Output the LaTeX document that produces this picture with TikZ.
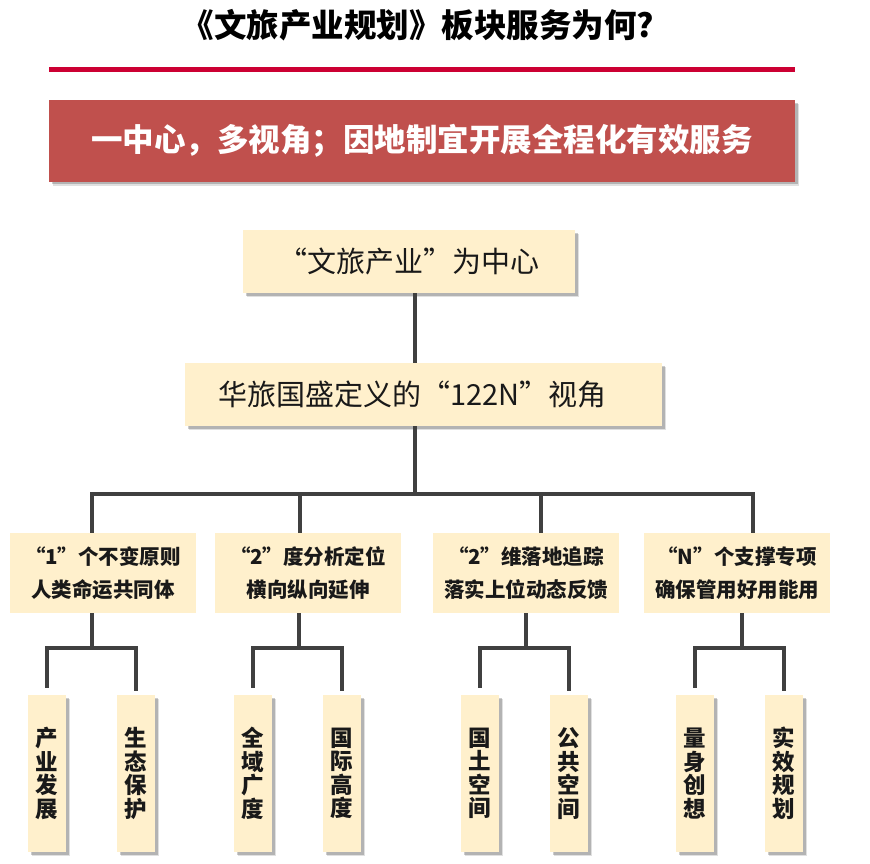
\documentclass[tikz,border=0pt]{standalone}
\usepackage{fontspec}
\setmainfont{Noto Sans CJK SC}
\usetikzlibrary{shadows}

\definecolor{cream}{HTML}{FFF0CC}
\definecolor{brick}{HTML}{C0504D}
\definecolor{crimson}{HTML}{CC0033}
\definecolor{ink}{HTML}{404040}

\tikzset{
    soft/.style={drop shadow={shadow xshift=4pt, shadow yshift=-4pt, fill=black, opacity=.12},
                 drop shadow={shadow xshift=2.5pt, shadow yshift=-2.5pt, fill=black, opacity=.2}},
    base/.style={fill=cream, inner sep=0pt, text=black!90},
    banner/.style={fill=brick, soft, inner sep=0pt, minimum width=746pt, minimum height=81pt,
                   text=white, font=\fontsize{31.5}{34}\selectfont\bfseries},
    topbox/.style={base, soft, minimum height=63pt, font=\fontsize{29}{32}\selectfont},
    midbox/.style={base, minimum width=186pt, minimum height=80pt, align=center,
                   font=\fontsize{20.5}{33}\selectfont\bfseries},
    leaf/.style={base, soft, minimum width=38pt, minimum height=157pt, align=center,
                 font=\fontsize{22.5}{23.5}\selectfont\bfseries},
    link/.style={draw=ink, line width=3.2pt},
}

\begin{document}
\begin{tikzpicture}[x=1pt, y=-1pt]
            \useasboundingbox (0, 0) rectangle (870, 864);

            % heading
            \node[font=\fontsize{32.5}{36}\selectfont\bfseries] (title) at (418, 25) { 《文旅产业规划》板块服务为何? };
            \draw[crimson, line width=4.5pt] (49, 69.5) -- (795, 69.5);
            \node[banner] (head) at (422, 141) { 一中心，多视角；因地制宜开展全程化有效服务 };

            % centre and view
            \node[topbox, minimum width=332pt] (c) at (409, 261.5) { “文旅产业”为中心 };
            \node[topbox, text width=411pt, inner xsep=33pt, align=left] (v) at (423.5, 394.5) { 华旅国盛定义的“122N”视角 };

            % the four parts
            \node[midbox] (v1) at (103, 573) { “1”个不变原则\\人类命运共同体 };
            \node[midbox] (v2) at (308, 573) { “2”度分析定位\\横向纵向延伸 };
            \node[midbox] (v3) at (526, 573) { “2”维落地追踪\\落实上位动态反馈 };
            \node[midbox] (v4) at (737, 573) { “N”个支撑专项\\确保管用好用能用 };

            % leaves
            \node[leaf] (v11) at (47, 773.5) { 产\\业\\发\\展 };
            \node[leaf] (v12) at (136, 773.5) { 生\\态\\保\\护 };
            \node[leaf] (v21) at (253, 773.5) { 全\\域\\广\\度 };
            \node[leaf] (v22) at (342, 773.5) { 国\\际\\高\\度 };
            \node[leaf] (v31) at (480, 773.5) { 国\\土\\空\\间 };
            \node[leaf] (v32) at (569, 773.5) { 公\\共\\空\\间 };
            \node[leaf] (v41) at (695, 773.5) { 量\\身\\创\\想 };
            \node[leaf] (v42) at (784, 773.5) { 实\\效\\规\\划 };

            \coordinate (hub) at (415, 494);
            \coordinate (b1) at (92, 494);
            \coordinate (b2) at (300, 494);
            \coordinate (b3) at (541, 494);
            \coordinate (b4) at (753, 494);
            \coordinate (s1) at (92, 648);
            \coordinate (s2) at (299, 648);
            \coordinate (s3) at (526, 648);
            \coordinate (s4) at (742, 648);

            \draw[link] (hub |- c.south) -- (hub |- v.north);
            \draw[link] (hub |- v.south) -- (hub);
            \draw[link] (b1 |- v1.north) -- (b1) -- (b4) -- (b4 |- v4.north);
            \draw[link] (b2) -- (b2 |- v2.north);
            \draw[link] (b3) -- (b3 |- v3.north);

            \draw[link] (s1 |- v1.south) -- (s1);
            \draw[link] (s2 |- v2.south) -- (s2);
            \draw[link] (s3 |- v3.south) -- (s3);
            \draw[link] (s4 |- v4.south) -- (s4);

            \draw[link] ([yshift=7pt]v11.north) -- (v11 |- s1) -- (v12 |- s1) -- ([yshift=4pt]v12.north);
            \draw[link] ([yshift=7pt]v21.north) -- (v21 |- s2) -- (v22 |- s2) -- ([yshift=4pt]v22.north);
            \draw[link] ([yshift=7pt]v31.north) -- (v31 |- s3) -- (v32 |- s3) -- ([yshift=4pt]v32.north);
            \draw[link] ([yshift=7pt]v41.north) -- (v41 |- s4) -- (v42 |- s4) -- ([yshift=4pt]v42.north);
\end{tikzpicture}
\end{document}
